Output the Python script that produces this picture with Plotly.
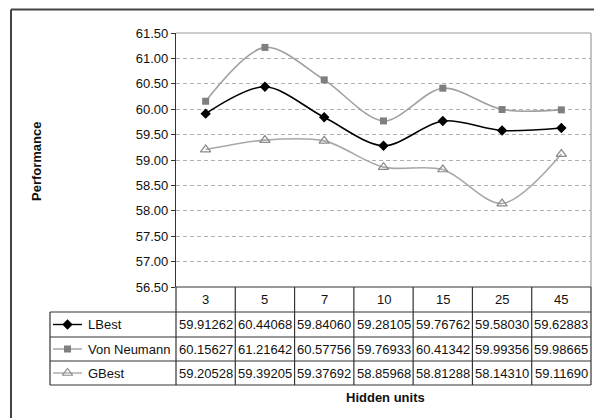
import plotly.graph_objects as go

# Data
hidden_units = ["3", "5", "7", "10", "15", "25", "45"]
lbest = [59.91262, 60.44068, 59.84060, 59.28105, 59.76762, 59.58030, 59.62883]
von_neumann = [60.15627, 61.21642, 60.57756, 59.76933, 60.41342, 59.99356, 59.98665]
gbest = [59.20528, 59.39205, 59.37692, 58.85968, 58.81288, 58.14310, 59.11690]
series_names = ["LBest", "Von Neumann", "GBest"]
y_ticks = [56.5, 57.0, 57.5, 58.0, 58.5, 59.0, 59.5, 60.0, 60.5, 61.0, 61.5]

W, H = 594, 418
FONT = "Liberation Sans, Arial, sans-serif"


def px(x):
    return x / W


def py(y):
    return 1 - y / H


# plot-area / table geometry (pixels)
PL, PR, PT, PB = 176, 591, 33, 287
ROW_LINES = [287, 312, 337, 361, 385]
TABLE_LEFT = 50

styles = [
    dict(line=dict(color="#000000", width=1.6),
         marker=dict(symbol="diamond", size=8, color="#000000")),
    dict(line=dict(color="#a0a0a0", width=1.6),
         marker=dict(symbol="square", size=7, color="#7f7f7f")),
    dict(line=dict(color="#a8a8a8", width=1.6),
         marker=dict(symbol="triangle-up-open", size=9, color="#8a8a8a",
                     line=dict(width=1.2))),
]

fig = go.Figure()
for name, vals, st in zip(series_names, [lbest, von_neumann, gbest], styles):
    fig.add_trace(go.Scatter(
        x=hidden_units, y=vals, name=name, mode="lines+markers",
        line=dict(shape="spline", smoothing=0.9, **st["line"]),
        marker=st["marker"], showlegend=False,
    ))

# legend keys inside the data table (full-page axis in pixel units)
for i, st in enumerate(styles):
    yc = (ROW_LINES[i + 1] + ROW_LINES[i + 2]) / 2
    fig.add_trace(go.Scatter(
        x=[53, 82], y=[yc, yc], mode="lines", line=dict(color=st["line"]["color"], width=1.4),
        xaxis="x2", yaxis="y2", showlegend=False, hoverinfo="skip"))
    fig.add_trace(go.Scatter(
        x=[67.5], y=[yc], mode="markers", marker=st["marker"],
        xaxis="x2", yaxis="y2", showlegend=False, hoverinfo="skip"))

shapes = []
# outer chart frame (left and top edges)
shapes.append(dict(type="line", xref="paper", yref="paper", x0=px(11), x1=px(600),
                   y0=py(9.5), y1=py(9.5), line=dict(color="#444444", width=2)))
shapes.append(dict(type="line", xref="paper", yref="paper", x0=px(11), x1=px(11),
                   y0=py(9.5), y1=py(430), line=dict(color="#444444", width=2)))
# plot area border (top, right)
shapes.append(dict(type="line", xref="paper", yref="paper", x0=px(PL), x1=px(PR),
                   y0=py(PT), y1=py(PT), line=dict(color="#9a9a9a", width=1.2)))
shapes.append(dict(type="line", xref="paper", yref="paper", x0=px(PR), x1=px(PR),
                   y0=py(PT), y1=py(PB), line=dict(color="#9a9a9a", width=1.2)))

# data table grid
tc = "#333333"
for j, yl in enumerate(ROW_LINES):
    x0 = PL if j == 0 else TABLE_LEFT
    shapes.append(dict(type="line", xref="paper", yref="paper", x0=px(x0), x1=px(PR),
                       y0=py(yl), y1=py(yl), line=dict(color=tc, width=1.2)))
ncat = len(hidden_units)
for k in range(ncat + 1):
    xv = PL + (PR - PL) * k / ncat
    shapes.append(dict(type="line", xref="paper", yref="paper", x0=px(xv), x1=px(xv),
                       y0=py(ROW_LINES[0]), y1=py(ROW_LINES[-1]), line=dict(color=tc, width=1.2)))
shapes.append(dict(type="line", xref="paper", yref="paper", x0=px(TABLE_LEFT), x1=px(TABLE_LEFT),
                   y0=py(ROW_LINES[1]), y1=py(ROW_LINES[-1]), line=dict(color=tc, width=1.2)))

annotations = []
tfont = dict(family=FONT, size=13, color="#111111")
# category header row (x given as category index on the category axis)
for ci, cat in enumerate(hidden_units):
    annotations.append(dict(x=ci, xref="x", y=py((ROW_LINES[0] + ROW_LINES[1]) / 2), yref="paper",
                            text=cat, showarrow=False, font=tfont, xanchor="center", yanchor="middle"))
# value rows
for i, (name, vals) in enumerate(zip(series_names, [lbest, von_neumann, gbest])):
    yc = py((ROW_LINES[i + 1] + ROW_LINES[i + 2]) / 2)
    annotations.append(dict(x=px(86), xref="paper", y=yc, yref="paper", text=name,
                            showarrow=False, font=tfont, xanchor="left", yanchor="middle"))
    for ci, v in enumerate(vals):
        annotations.append(dict(x=ci, xref="x", y=yc, yref="paper", text=f"{v:.5f}",
                                showarrow=False, font=tfont, xanchor="center", yanchor="middle"))
# axis titles
annotations.append(dict(x=px(36), y=py(162), xref="paper", yref="paper", text="<b>Performance</b>",
                        textangle=-90, showarrow=False, xanchor="center", yanchor="middle",
                        font=dict(family=FONT, size=13, color="#111111")))
annotations.append(dict(x=px(385), y=py(397), xref="paper", yref="paper", text="<b>Hidden units</b>",
                        showarrow=False, xanchor="center", yanchor="middle",
                        font=dict(family=FONT, size=13, color="#111111")))

fig.update_layout(
    width=W, height=H, autosize=False,
    margin=dict(l=0, r=0, t=0, b=0, pad=0, autoexpand=False),
    paper_bgcolor="white", plot_bgcolor="rgba(0,0,0,0)",
    shapes=shapes, annotations=annotations,
    xaxis=dict(domain=[px(PL), px(PR)], type="category", categoryorder="array",
               categoryarray=hidden_units, range=[-0.5, ncat - 0.5],
               showticklabels=False, ticks="", showgrid=False, zeroline=False,
               showline=False, fixedrange=True, automargin=False),
    yaxis=dict(domain=[py(PB), py(PT)], range=[56.5, 61.5], tickvals=y_ticks,
               ticktext=[f"{v:.2f}" for v in y_ticks], ticks="outside", ticklen=4,
               tickcolor="#333333", tickfont=dict(family=FONT, size=13, color="#111111"),
               showline=True, linecolor="#333333", linewidth=1.2,
               showgrid=True, gridcolor="#b0b0b0", griddash="4px,3px", gridwidth=1,
               zeroline=False, fixedrange=True, automargin=False),
    xaxis2=dict(domain=[0, 1], range=[0, W], visible=False, anchor="y2",
                fixedrange=True, automargin=False),
    yaxis2=dict(domain=[0, 1], range=[H, 0], visible=False, anchor="x2",
                fixedrange=True, automargin=False),
)

fig.write_html("out.html")
